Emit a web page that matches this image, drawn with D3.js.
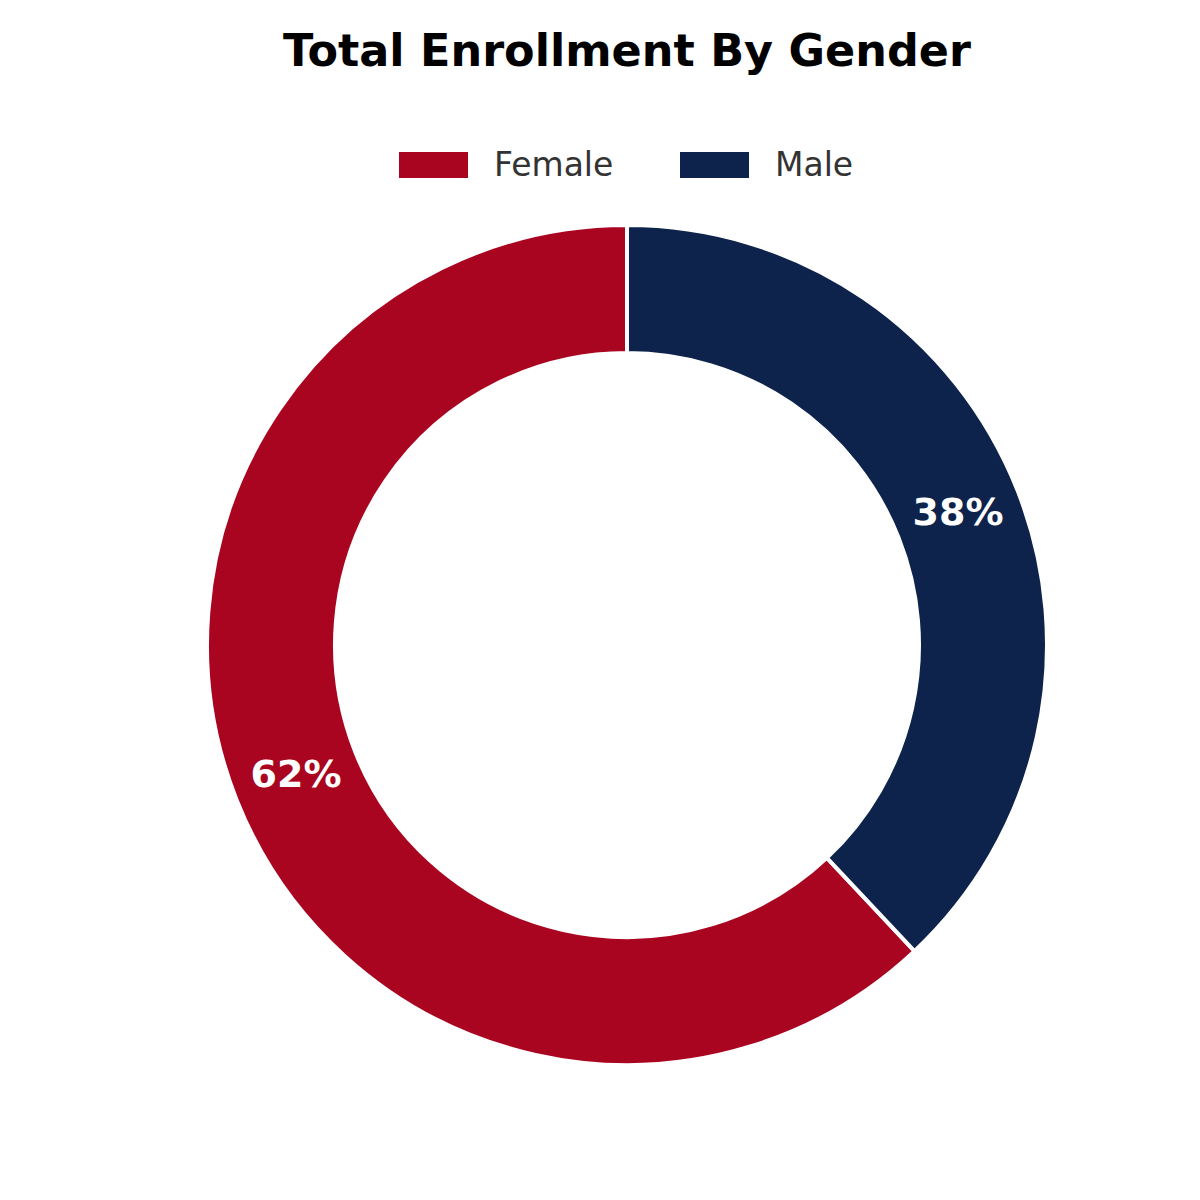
<!DOCTYPE html>
<html>
<head>
<meta charset="utf-8">
<script src="https://cdn.jsdelivr.net/npm/d3@7"></script>
<style>
	body { margin: 0; background: #fff; }
	svg { display: block; font-family: "DejaVu Sans", sans-serif; }
</style>
</head>
<body>
<svg id="chart" width="1200" height="1200"></svg>
<script>
var categories = ['Female', 'Male'];
var shares = [62, 38];
var colors = ['#AA0520', '#0D234B'];

var chart = {
	width: 1200,
	height: 1200,
	cx: 627,
	cy: 645,
	outer: 420,
	inner: 292
}

var svg = d3.select('#chart');

// title
svg.append('text')
	.attr('x', 627)
	.attr('y', 66)
	.attr('text-anchor', 'middle')
	.style('font-size', '44.5px')
	.style('font-weight', 'bold')
	.text('Total Enrollment By Gender');

// legend
var legendX = d3.scalePoint()
	.domain(categories)
	.range([399, 680]);

var legend = svg.append('g')
	.selectAll('g')
	.data(categories)
	.enter()
	.append('g')
	.attr('transform', d => `translate(${legendX(d)},152)`);

legend.append('rect')
	.attr('width', 69)
	.attr('height', 26)
	.attr('fill', (d,i) => colors[i]);

legend.append('text')
	.attr('x', 95)
	.attr('y', 24)
	.style('font-size', '33px')
	.attr('fill', '#333')
	.text(d => d);

// donut: male starts at 12 o'clock and runs clockwise
var data = categories.map((c,i) => ({name: c, value: shares[i], color: colors[i]}));

var pie = d3.pie()
	.sort(null)
	.value(d => d.value)
	.startAngle(2 * Math.PI * shares[1] / 100)
	.endAngle(2 * Math.PI * (1 + shares[1] / 100));

var arc = d3.arc()
	.innerRadius(chart.inner)
	.outerRadius(chart.outer);

var g = svg.append('g')
	.attr('transform', `translate(${chart.cx},${chart.cy})`);

var slices = g.selectAll('g')
	.data(pie(data))
	.enter()
	.append('g');

slices.append('path')
	.attr('d', arc)
	.attr('fill', d => d.data.color)
	.attr('stroke', '#fff')
	.attr('stroke-width', 4);

slices.append('text')
	.attr('transform', d => `translate(${arc.centroid(d)})`)
	.attr('text-anchor', 'middle')
	.attr('dy', '0.28em')
	.attr('fill', '#fff')
	.style('font-size', '38px')
	.style('font-weight', 'bold')
	.text(d => d.data.value + '%');
</script>
</body>
</html>
